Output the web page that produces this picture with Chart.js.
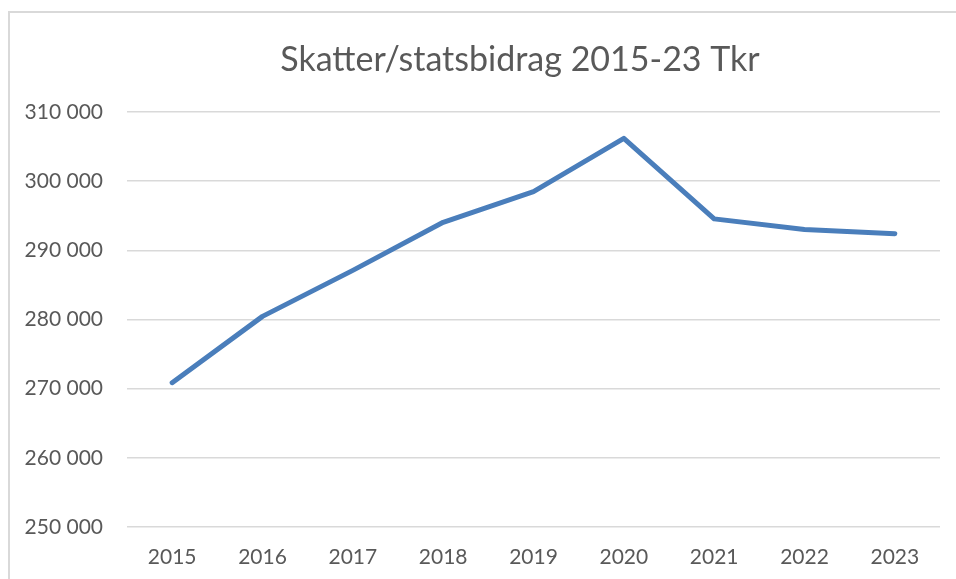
<!DOCTYPE html>
<html>
<head>
<meta charset="utf-8">
<script src="https://cdn.jsdelivr.net/npm/chart.js@4"></script>
<style>
    html, body { margin: 0; padding: 0; background: #fff; overflow: hidden; }
    .frame {
        position: absolute; left: 8px; top: 11px; width: 980px; height: 600px;
        border: 2px solid #d9d9d9;
    }
    #chart { position: absolute; left: 0; top: 0; }
</style>
</head>
<body>
<div class="frame"></div>
<canvas id="chart" width="956" height="579"></canvas>
<script>
// --- Data ---
const years = ['2015', '2016', '2017', '2018', '2019', '2020', '2021', '2022', '2023'];
const skatter = [270870, 280450, 287100, 294050, 298500, 306200, 294550, 293000, 292400];
const yTicks = [250000, 260000, 270000, 280000, 290000, 300000, 310000];
const titleText = 'Skatter/statsbidrag 2015-23 Tkr';

const textColor = '#595959';
const gridColor = '#d9d9d9';

const fmt = (v) => String(v).replace(/\B(?=(\d{3})+(?!\d))/g, ' ');

// Excel centres the title on the whole chart box, not the plot area
const titlePlugin = {
    id: 'excelTitle',
    afterDraw(chart) {
        const c = chart.ctx;
        c.save();
        c.font = '34px Lato';
        c.fillStyle = textColor;
        c.textAlign = 'center';
        c.textBaseline = 'middle';
        c.fillText(titleText, 520, 60);
        c.restore();
    }
};

const ctx = document.getElementById('chart').getContext('2d');
new Chart(ctx, {
    type: 'line',
    data: {
        labels: years,
        datasets: [{
            label: 'Skatter/statsbidrag',
            data: skatter,
            borderColor: '#4a7ebb',
            borderWidth: 5,
            borderCapStyle: 'round',
            borderJoinStyle: 'round',
            pointRadius: 0,
            tension: 0,
            fill: false
        }]
    },
    plugins: [titlePlugin],
    options: {
        responsive: false,
        animation: false,
        layout: { padding: { left: 0, right: 16, top: 112, bottom: 0 } },
        plugins: {
            legend: { display: false },
            tooltip: { enabled: false },
            title: { display: false }
        },
        scales: {
            x: {
                offset: true,
                grid: { display: false, drawTicks: false },
                border: { display: false },
                ticks: {
                    color: textColor,
                    font: { family: 'Lato', size: 21 },
                    padding: 18,
                    maxRotation: 0
                },
                afterFit: (scale) => { scale.height = 52; }
            },
            y: {
                min: yTicks[0],
                max: yTicks[yTicks.length - 1],
                afterBuildTicks: (scale) => { scale.ticks = yTicks.map(v => ({ value: v })); },
                grid: { color: gridColor, lineWidth: 1.5, drawTicks: false },
                border: { display: false },
                ticks: {
                    color: textColor,
                    font: { family: 'Lato', size: 21 },
                    padding: 24,
                    callback: (v) => fmt(v)
                },
                afterFit: (scale) => { scale.width = 127; }
            }
        }
    }
});
</script>
</body>
</html>
